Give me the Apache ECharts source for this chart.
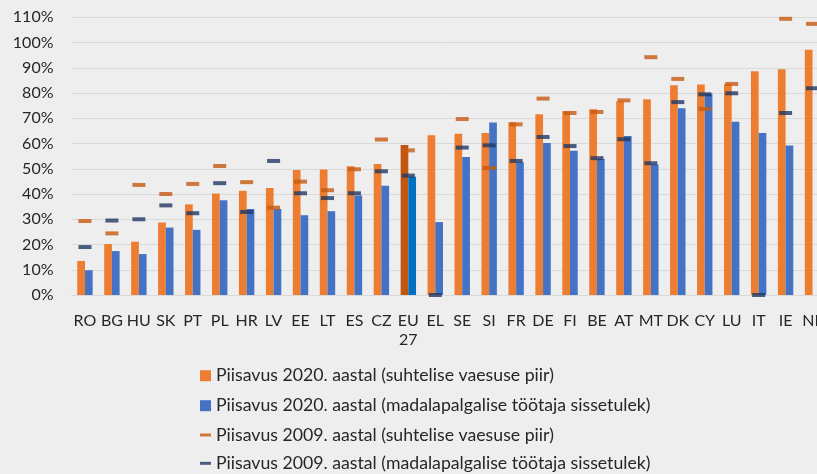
<!DOCTYPE html>
<html>
<head>
<meta charset="utf-8">
<script src="https://cdn.jsdelivr.net/npm/echarts@6/dist/echarts.min.js"></script>
<style>
  html, body { margin: 0; padding: 0; background: #eeeeee; }
  #chart { width: 817px; height: 474px; }
</style>
</head>
<body>
<div id="chart"></div>
<script>
// riigid
const countries = ['RO', 'BG', 'HU', 'SK', 'PT', 'PL', 'HR', 'LV', 'EE', 'LT', 'ES', 'CZ', 'EU\n27', 'EL', 'SE', 'SI', 'FR', 'DE', 'FI', 'BE', 'AT', 'MT', 'DK', 'CY', 'LU', 'IT', 'IE', 'NL']
// 2020 tulbad
const cov2020Poverty = [13.5, 20.2, 21.1, 28.7, 35.9, 40.2, 41.3, 42.4, 49.5, 49.7, 51.0, 51.9, 59.4, 63.3, 63.9, 64.2, 68.4, 71.6, 72.8, 73.6, 76.6, 77.5, 83.1, 83.4, 83.6, 88.6, 89.4, 97.1]
const cov2020LowWage = [9.8, 17.4, 16.2, 26.7, 25.8, 37.5, 34.1, 34.1, 31.6, 33.2, 39.4, 43.3, 46.8, 28.9, 54.7, 68.3, 52.6, 60.2, 57.1, 53.9, 63.0, 51.7, 74.0, 79.8, 68.6, 64.2, 59.2, null]
// 2009 kriipsud
const cov2009Poverty = [29.3, 24.4, 43.6, 40.0, 44.0, 51.1, 44.7, 34.6, 44.9, 41.5, 49.8, 61.6, 57.3, null, 69.7, 50.3, 67.6, 77.8, 72.1, 72.5, 77.1, 94.2, 85.6, 73.7, 83.6, null, 109.4, 107.4]
const cov2009LowWage = [19.0, 29.5, 30.0, 35.5, 32.4, 44.3, 32.9, 53.1, 40.3, 38.4, 40.3, 49.0, 47.3, 0, 58.4, 59.3, 53.1, 62.6, 59.0, 54.2, 61.7, 52.2, 76.4, 79.5, 79.9, 0, 72.1, 81.9]
const yTicks = { min: 0, max: 110, step: 10 }

const names = [
  'Piisavus 2020. aastal (suhtelise vaesuse piir)',
  'Piisavus 2020. aastal (madalapalgalise töötaja sissetulek)',
  'Piisavus 2009. aastal (suhtelise vaesuse piir)',
  'Piisavus 2009. aastal (madalapalgalise töötaja sissetulek)'
]
const euIdx = countries.indexOf('EU\n27')
const font = 'Lato, "Open Sans", sans-serif'

function barData(vals, euColor) {
  return vals.map((v, i) => i === euIdx ? { value: v, itemStyle: { color: euColor } } : v)
}

// one legend per row, so rows can't wrap
const legendRows = [375.7, 405.7, 435, 463.3]
const legends = names.map((n, i) => ({
  orient: 'vertical', left: 200, top: legendRows[i] - 10, padding: 0,
  itemWidth: 11, itemHeight: i < 2 ? 11 : 3, icon: 'rect',
  data: [n],
  textStyle: { fontFamily: font, fontSize: 17.7, color: '#262626', lineHeight: 20 }
}))

const chart = echarts.init(document.getElementById('chart'))
chart.setOption({
  backgroundColor: '#eeeeee',
  animation: false,
  textStyle: { fontFamily: font },
  grid: { left: 71.5, width: 754.5, top: 17.3, height: 277.7, containLabel: false, outerBoundsMode: 'none' },
  legend: legends,
  xAxis: {
    type: 'category',
    data: countries,
    axisTick: { show: false },
    axisLine: { lineStyle: { color: '#d9d9d9', width: 1 } },
    axisLabel: { interval: 0, margin: 16, fontSize: 16, color: '#262626', fontFamily: font, lineHeight: 19 }
  },
  yAxis: {
    type: 'value',
    min: yTicks.min, max: yTicks.max, interval: yTicks.step,
    axisLine: { show: false },
    axisTick: { show: false },
    splitLine: { lineStyle: { color: '#d9d9d9', width: 1 } },
    axisLabel: { formatter: '{value}%', margin: 18, fontSize: 16, color: '#262626', fontFamily: font }
  },
  series: [
    {
      name: names[0], type: 'bar', barWidth: 7.7, barGap: '0%',
      itemStyle: { color: '#ed7d31' },
      data: barData(cov2020Poverty, '#c0560f')
    },
    {
      name: names[1], type: 'bar', barWidth: 7.7, barGap: '0%',
      itemStyle: { color: '#4472c4' },
      data: barData(cov2020LowWage, '#0070c0')
    },
    {
      name: names[2], type: 'scatter', symbol: 'rect', symbolSize: [13, 4], z: 3,
      itemStyle: { color: '#c55a11' },
      data: cov2009Poverty
    },
    {
      name: names[3], type: 'scatter', symbol: 'rect', symbolSize: [13, 4], z: 4,
      itemStyle: { color: '#203864' },
      data: cov2009LowWage
    }
  ]
})
</script>
</body>
</html>
